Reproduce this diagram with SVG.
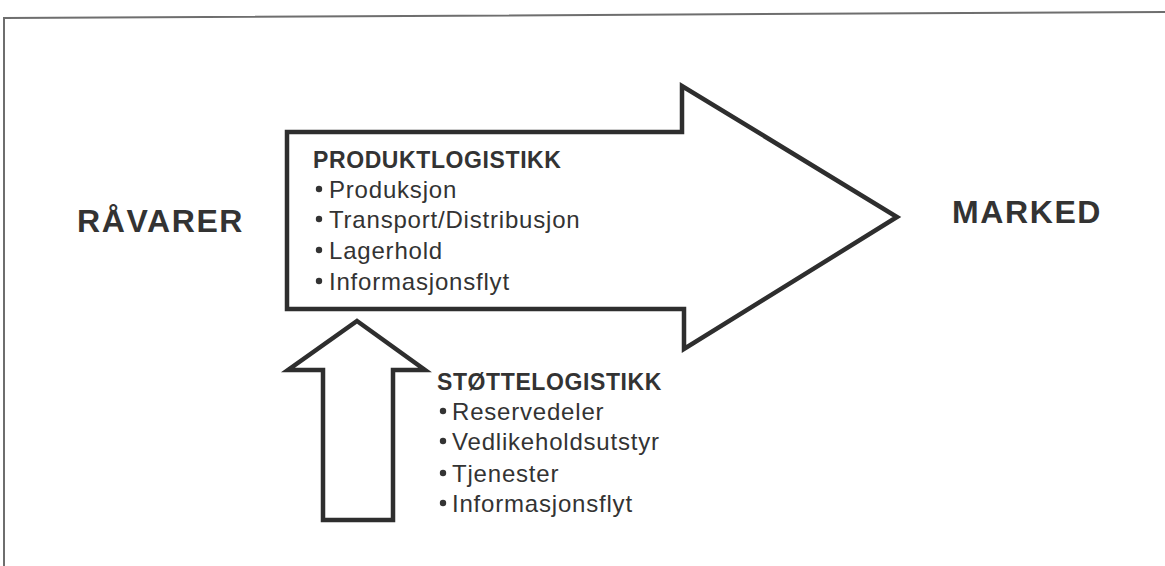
<svg xmlns="http://www.w3.org/2000/svg" width="1165" height="566" viewBox="0 0 1165 566">
<style>
.frame{fill:none;stroke:#6e6e6e;stroke-width:2}
.arrow{fill:#fff;stroke:#2e2e2e;stroke-width:4.5;stroke-linejoin:miter}
.big{font-family:"Liberation Sans",Arial,sans-serif;font-weight:bold;font-size:32px;letter-spacing:1.6px;fill:#333}
.head{font-family:"Liberation Sans",Arial,sans-serif;font-weight:bold;font-size:23px;letter-spacing:0.6px;fill:#333}
.item{font-family:"Liberation Sans",Arial,sans-serif;font-size:24px;letter-spacing:0.8px;fill:#333}
.bul{fill:#333}
</style>
<rect width="1165" height="566" fill="#fff"/>
<path class="frame" d="M4,566 V18 L1165,12"/>
<g id="produktlogistikk">
<path class="arrow" d="M287,132 H682 V86 L897,217 L684,349 V309 H287 Z"/>
<text class="head" x="313" y="168">PRODUKTLOGISTIKK</text>
<circle class="bul" cx="319" cy="189" r="3.2"/><text class="item" x="329" y="198">Produksjon</text>
<circle class="bul" cx="319" cy="219" r="3.2"/><text class="item" x="329" y="228">Transport/Distribusjon</text>
<circle class="bul" cx="319" cy="250" r="3.2"/><text class="item" x="329" y="259">Lagerhold</text>
<circle class="bul" cx="319" cy="281" r="3.2"/><text class="item" x="329" y="290">Informasjonsflyt</text>
</g>
<g id="stottelogistikk">
<path class="arrow" d="M357,321 L425,370 H393 V520 H323 V370 H288 Z"/>
<text class="head" x="437" y="390">STØTTELOGISTIKK</text>
<circle class="bul" cx="443" cy="411" r="3.2"/><text class="item" x="452" y="420">Reservedeler</text>
<circle class="bul" cx="443" cy="441" r="3.2"/><text class="item" x="452" y="450">Vedlikeholdsutstyr</text>
<circle class="bul" cx="443" cy="473" r="3.2"/><text class="item" x="452" y="482">Tjenester</text>
<circle class="bul" cx="443" cy="503" r="3.2"/><text class="item" x="452" y="512">Informasjonsflyt</text>
</g>
<g id="ravarer"><text class="big" x="77" y="232">RÅVARER</text></g>
<g id="marked"><text class="big" x="952" y="223">MARKED</text></g>
<g id="connectors"></g>
</svg>
